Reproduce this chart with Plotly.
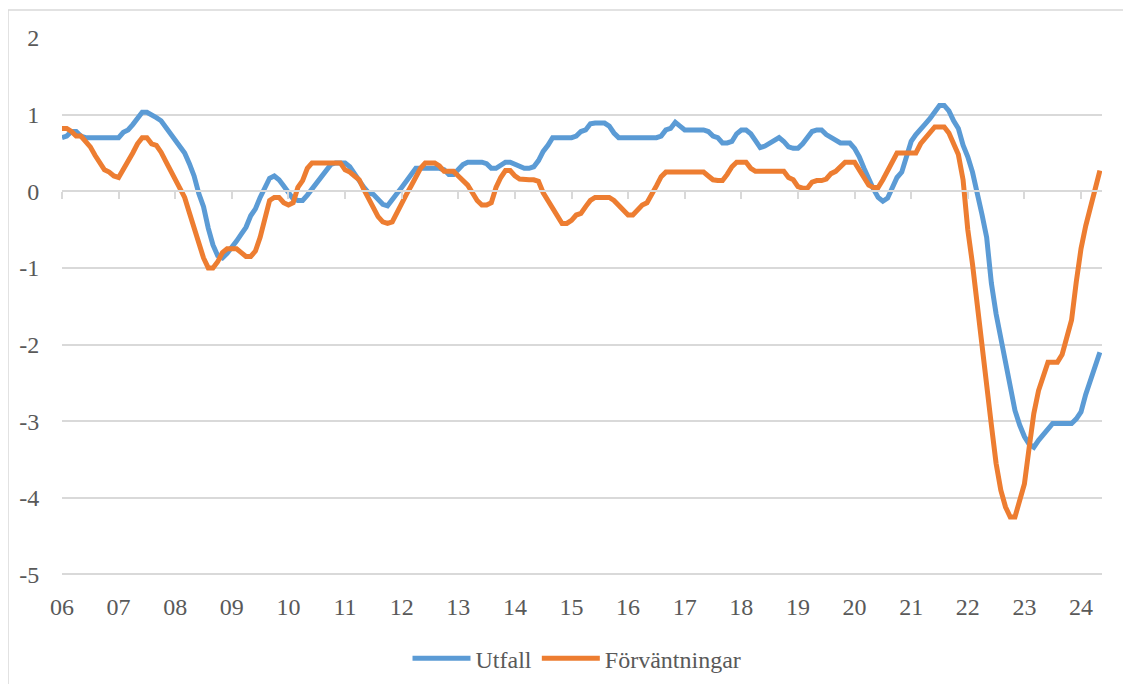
import plotly.graph_objects as go

# Monthly values, Jan 2006 - May 2024
utfall_by_year = {
    2006: [0.70, 0.72, 0.78, 0.78, 0.72, 0.70, 0.70, 0.70, 0.70, 0.70, 0.70, 0.70],
    2007: [0.70, 0.77, 0.80, 0.87, 0.95, 1.03, 1.03, 1.00, 0.96, 0.92, 0.84, 0.75],
    2008: [0.67, 0.58, 0.50, 0.36, 0.20, -0.03, -0.20, -0.48, -0.70, -0.84, -0.87, -0.81],
    2009: [-0.74, -0.65, -0.56, -0.47, -0.32, -0.23, -0.08, 0.06, 0.17, 0.20, 0.15, 0.07],
    2010: [-0.02, -0.10, -0.12, -0.12, -0.05, 0.03, 0.12, 0.20, 0.27, 0.35, 0.37, 0.37],
    2011: [0.37, 0.32, 0.24, 0.14, 0.05, -0.02, -0.04, -0.10, -0.17, -0.19, -0.10, -0.03],
    2012: [0.05, 0.14, 0.22, 0.30, 0.30, 0.30, 0.30, 0.30, 0.30, 0.28, 0.22, 0.22],
    2013: [0.28, 0.35, 0.38, 0.38, 0.38, 0.38, 0.36, 0.30, 0.30, 0.34, 0.38, 0.38],
    2014: [0.35, 0.32, 0.30, 0.30, 0.32, 0.40, 0.52, 0.60, 0.70, 0.70, 0.70, 0.70],
    2015: [0.70, 0.72, 0.78, 0.80, 0.88, 0.89, 0.89, 0.89, 0.85, 0.76, 0.70, 0.70],
    2016: [0.70, 0.70, 0.70, 0.70, 0.70, 0.70, 0.70, 0.72, 0.80, 0.82, 0.90, 0.85],
    2017: [0.80, 0.80, 0.80, 0.80, 0.80, 0.78, 0.72, 0.70, 0.63, 0.63, 0.65, 0.75],
    2018: [0.80, 0.80, 0.75, 0.66, 0.57, 0.59, 0.63, 0.67, 0.70, 0.65, 0.58, 0.56],
    2019: [0.56, 0.62, 0.70, 0.78, 0.80, 0.80, 0.74, 0.70, 0.67, 0.63, 0.63, 0.63],
    2020: [0.56, 0.45, 0.30, 0.15, 0.03, -0.08, -0.13, -0.09, 0.06, 0.18, 0.25, 0.43],
    2021: [0.65, 0.74, 0.82, 0.88, 0.95, 1.05, 1.12, 1.12, 1.05, 0.92, 0.82, 0.60],
    2022: [0.45, 0.25, 0.00, -0.30, -0.60, -1.20, -1.60, -1.92, -2.20, -2.52, -2.86, -3.05],
    2023: [-3.20, -3.30, -3.34, -3.25, -3.17, -3.10, -3.03, -3.03, -3.03, -3.03, -3.03, -2.97],
    2024: [-2.88, -2.65, -2.45, -2.28, -2.10],
}

forvantningar_by_year = {
    2006: [0.82, 0.82, 0.78, 0.72, 0.72, 0.65, 0.58, 0.47, 0.36, 0.28, 0.25, 0.20],
    2007: [0.18, 0.28, 0.38, 0.50, 0.62, 0.70, 0.70, 0.62, 0.60, 0.51, 0.39, 0.28],
    2008: [0.16, 0.04, -0.08, -0.28, -0.47, -0.67, -0.87, -1.00, -1.00, -0.92, -0.80, -0.75],
    2009: [-0.75, -0.75, -0.80, -0.85, -0.85, -0.78, -0.60, -0.38, -0.12, -0.08, -0.08, -0.15],
    2010: [-0.18, -0.15, 0.05, 0.14, 0.30, 0.37, 0.37, 0.37, 0.37, 0.37, 0.37, 0.37],
    2011: [0.28, 0.25, 0.20, 0.15, 0.02, -0.10, -0.22, -0.33, -0.40, -0.42, -0.40, -0.27],
    2012: [-0.15, -0.04, 0.07, 0.19, 0.30, 0.37, 0.37, 0.37, 0.33, 0.26, 0.26, 0.26],
    2013: [0.20, 0.15, 0.08, -0.02, -0.12, -0.18, -0.18, -0.15, 0.05, 0.18, 0.27, 0.27],
    2014: [0.20, 0.16, 0.15, 0.15, 0.15, 0.13, -0.02, -0.12, -0.24, -0.34, -0.42, -0.42],
    2015: [-0.38, -0.31, -0.29, -0.20, -0.12, -0.08, -0.08, -0.08, -0.08, -0.12, -0.18, -0.26],
    2016: [-0.31, -0.31, -0.25, -0.18, -0.15, -0.05, 0.07, 0.19, 0.25, 0.25, 0.25, 0.25],
    2017: [0.25, 0.25, 0.25, 0.25, 0.25, 0.20, 0.15, 0.14, 0.14, 0.22, 0.32, 0.38],
    2018: [0.38, 0.38, 0.30, 0.26, 0.26, 0.26, 0.26, 0.26, 0.26, 0.26, 0.18, 0.15],
    2019: [0.06, 0.04, 0.04, 0.12, 0.14, 0.14, 0.16, 0.23, 0.26, 0.32, 0.38, 0.38],
    2020: [0.38, 0.28, 0.18, 0.08, 0.05, 0.05, 0.15, 0.26, 0.38, 0.50, 0.50, 0.50],
    2021: [0.50, 0.50, 0.62, 0.70, 0.76, 0.84, 0.84, 0.84, 0.76, 0.63, 0.48, 0.15],
    2022: [-0.50, -0.95, -1.50, -2.05, -2.50, -3.05, -3.55, -3.90, -4.12, -4.25, -4.25, -4.05],
    2023: [-3.82, -3.35, -2.90, -2.60, -2.40, -2.23, -2.23, -2.23, -2.13, -1.92, -1.68, -1.18],
    2024: [-0.75, -0.45, -0.20, 0.03, 0.27],
}

year_labels = ["06", "07", "08", "09", "10", "11", "12", "13", "14", "15",
               "16", "17", "18", "19", "20", "21", "22", "23", "24"]
y_ticks = [2, 1, 0, -1, -2, -3, -4, -5]
y_tick_labels = ["2", "1", "0", "-1", "-2", "-3", "-4", "-5"]

utfall = [v for y in sorted(utfall_by_year) for v in utfall_by_year[y]]
forv = [v for y in sorted(forvantningar_by_year) for v in forvantningar_by_year[y]]
months = list(range(len(utfall)))
year_ticks = [12 * i for i in range(len(year_labels))]

FONT = "Liberation Serif, Times New Roman, serif"
TXT = "#595959"
GRID = "#d9d9d9"
FS = 24

# layout geometry (the page body adds an 8px offset, so figure is 8px smaller)
W, H = 1123, 676
YR = [-5.02, 2.0]
PX_PER_UNIT = 536 / 7
T = 30
PLOT_H = (YR[1] - YR[0]) * PX_PER_UNIT
B = H - T - PLOT_H
PLOT_BOTTOM = T + PLOT_H

fig = go.Figure()
fig.add_trace(go.Scatter(x=months, y=utfall, mode="lines", name="Utfall",
                         line=dict(color="#5b9bd5", width=5)))
fig.add_trace(go.Scatter(x=months, y=forv, mode="lines", name="Förväntningar",
                         line=dict(color="#ed7d31", width=5)))

xr = [0, 220.45]
fig.update_layout(
    width=W, height=H,
    margin=dict(l=54, r=29, t=T, b=B, autoexpand=False),
    paper_bgcolor="white", plot_bgcolor="white",
    font=dict(family=FONT, size=FS, color=TXT),
    showlegend=True,
    legend=dict(orientation="h", x=0.4952, xanchor="center",
                y=(PLOT_BOTTOM - 650) / PLOT_H, yanchor="middle",
                font=dict(family=FONT, size=FS, color=TXT), itemwidth=58,
                tracegroupgap=0),
    xaxis=dict(range=xr, tickmode="array", tickvals=year_ticks, ticktext=year_labels,
               showgrid=False, zeroline=False, showline=False,
               ticks="outside", ticklen=9, tickcolor="rgba(0,0,0,0)",
               tickfont=dict(family=FONT, size=FS, color=TXT)),
    xaxis2=dict(range=xr, overlaying="x", anchor="free",
                position=(0 - YR[0]) / (YR[1] - YR[0]),
                tickmode="array", tickvals=year_ticks, showticklabels=False,
                showgrid=False, zeroline=False, showline=True, linecolor=GRID, linewidth=1.5,
                ticks="outside", ticklen=7, tickwidth=1.5, tickcolor=GRID),
    yaxis=dict(range=YR, tickmode="array", tickvals=y_ticks, ticktext=y_tick_labels,
               showgrid=True, gridcolor=GRID, gridwidth=1.5, zeroline=False,
               showline=False, ticks="outside", ticklen=17, tickcolor="rgba(0,0,0,0)",
               tickfont=dict(family=FONT, size=FS, color=TXT)),
    shapes=[dict(type="rect", xref="paper", yref="paper",
                 x0=(8 - 62) / 1040, x1=1.1, y0=-0.4, y1=(PLOT_BOTTOM - 2) / PLOT_H,
                 line=dict(color=GRID, width=1.5), layer="below")],
)
# empty trace on xaxis2 so the zero-line axis with its tick marks is drawn
fig.add_trace(go.Scatter(x=[0], y=[None], xaxis="x2", showlegend=False, hoverinfo="skip"))

fig.write_html("out.html")
